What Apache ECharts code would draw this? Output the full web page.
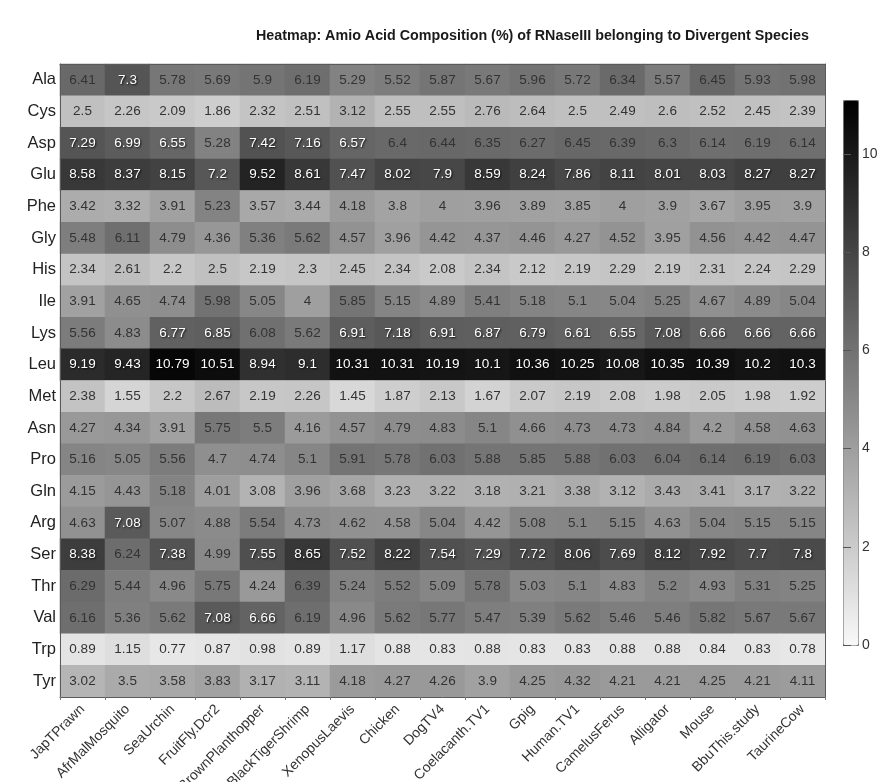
<!DOCTYPE html>
<html>
<head>
<meta charset="utf-8">
<script src="https://cdn.jsdelivr.net/npm/echarts@6/dist/echarts.min.js"></script>
<style>
  html, body { margin: 0; padding: 0; background: #ffffff; }
  #chart { width: 888px; height: 782px; }
</style>
</head>
<body>
<div id="chart"></div>
<script>
// Species (columns) and amino acids (rows)
const species = ['JapTPrawn', 'AfrMalMosquito', 'SeaUrchin', 'FruitFly.Dcr2', 'BrownPlanthopper',
  'BlackTigerShrimp', 'XenopusLaevis', 'Chicken', 'DogTV4', 'Coelacanth.TV1', 'Gpig', 'Human.TV1',
  'CamelusFerus', 'Alligator', 'Mouse', 'BbuThis.study', 'TaurineCow'];
const aminoAcids = ['Ala', 'Cys', 'Asp', 'Glu', 'Phe', 'Gly', 'His', 'Ile', 'Lys', 'Leu',
  'Met', 'Asn', 'Pro', 'Gln', 'Arg', 'Ser', 'Thr', 'Val', 'Trp', 'Tyr'];

// Composition (%) per amino acid, one value per species
const Ala = [6.41, 7.3, 5.78, 5.69, 5.9, 6.19, 5.29, 5.52, 5.87, 5.67, 5.96, 5.72, 6.34, 5.57, 6.45, 5.93, 5.98];
const Cys = [2.5, 2.26, 2.09, 1.86, 2.32, 2.51, 3.12, 2.55, 2.55, 2.76, 2.64, 2.5, 2.49, 2.6, 2.52, 2.45, 2.39];
const Asp = [7.29, 6.99, 6.55, 5.28, 7.42, 7.16, 6.57, 6.4, 6.44, 6.35, 6.27, 6.45, 6.39, 6.3, 6.14, 6.19, 6.14];
const Glu = [8.58, 8.37, 8.15, 7.2, 9.52, 8.61, 7.47, 8.02, 7.9, 8.59, 8.24, 7.86, 8.11, 8.01, 8.03, 8.27, 8.27];
const Phe = [3.42, 3.32, 3.91, 5.23, 3.57, 3.44, 4.18, 3.8, 4, 3.96, 3.89, 3.85, 4, 3.9, 3.67, 3.95, 3.9];
const Gly = [5.48, 6.11, 4.79, 4.36, 5.36, 5.62, 4.57, 3.96, 4.42, 4.37, 4.46, 4.27, 4.52, 3.95, 4.56, 4.42, 4.47];
const His = [2.34, 2.61, 2.2, 2.5, 2.19, 2.3, 2.45, 2.34, 2.08, 2.34, 2.12, 2.19, 2.29, 2.19, 2.31, 2.24, 2.29];
const Ile = [3.91, 4.65, 4.74, 5.98, 5.05, 4, 5.85, 5.15, 4.89, 5.41, 5.18, 5.1, 5.04, 5.25, 4.67, 4.89, 5.04];
const Lys = [5.56, 4.83, 6.77, 6.85, 6.08, 5.62, 6.91, 7.18, 6.91, 6.87, 6.79, 6.61, 6.55, 7.08, 6.66, 6.66, 6.66];
const Leu = [9.19, 9.43, 10.79, 10.51, 8.94, 9.1, 10.31, 10.31, 10.19, 10.1, 10.36, 10.25, 10.08, 10.35, 10.39, 10.2, 10.3];
const Met = [2.38, 1.55, 2.2, 2.67, 2.19, 2.26, 1.45, 1.87, 2.13, 1.67, 2.07, 2.19, 2.08, 1.98, 2.05, 1.98, 1.92];
const Asn = [4.27, 4.34, 3.91, 5.75, 5.5, 4.16, 4.57, 4.79, 4.83, 5.1, 4.66, 4.73, 4.73, 4.84, 4.2, 4.58, 4.63];
const Pro = [5.16, 5.05, 5.56, 4.7, 4.74, 5.1, 5.91, 5.78, 6.03, 5.88, 5.85, 5.88, 6.03, 6.04, 6.14, 6.19, 6.03];
const Gln = [4.15, 4.43, 5.18, 4.01, 3.08, 3.96, 3.68, 3.23, 3.22, 3.18, 3.21, 3.38, 3.12, 3.43, 3.41, 3.17, 3.22];
const Arg = [4.63, 7.08, 5.07, 4.88, 5.54, 4.73, 4.62, 4.58, 5.04, 4.42, 5.08, 5.1, 5.15, 4.63, 5.04, 5.15, 5.15];
const Ser = [8.38, 6.24, 7.38, 4.99, 7.55, 8.65, 7.52, 8.22, 7.54, 7.29, 7.72, 8.06, 7.69, 8.12, 7.92, 7.7, 7.8];
const Thr = [6.29, 5.44, 4.96, 5.75, 4.24, 6.39, 5.24, 5.52, 5.09, 5.78, 5.03, 5.1, 4.83, 5.2, 4.93, 5.31, 5.25];
const Val = [6.16, 5.36, 5.62, 7.08, 6.66, 6.19, 4.96, 5.62, 5.77, 5.47, 5.39, 5.62, 5.46, 5.46, 5.82, 5.67, 5.67];
const Trp = [0.89, 1.15, 0.77, 0.87, 0.98, 0.89, 1.17, 0.88, 0.83, 0.88, 0.83, 0.83, 0.88, 0.88, 0.84, 0.83, 0.78];
const Tyr = [3.02, 3.5, 3.58, 3.83, 3.17, 3.11, 4.18, 4.27, 4.26, 3.9, 4.25, 4.32, 4.21, 4.21, 4.25, 4.21, 4.11];

const composition = [Ala, Cys, Asp, Glu, Phe, Gly, His, Ile, Lys, Leu, Met, Asn, Pro, Gln, Arg, Ser, Thr, Val, Trp, Tyr];

// Colour scale range and its tick spacing
const scaleMin = 0;
const scaleMax = 11.1;
const scaleStep = 2;

// Flatten into [column, row, value] triples for the heatmap
const cells = [];
composition.forEach((row, r) => row.forEach((v, c) => cells.push([c, r, v])));

const FONT = "'Liberation Sans', Arial, sans-serif";
const frameLine = { show: true, lineStyle: { color: '#5a5a5a', width: 1 } };

const chart = echarts.init(document.getElementById('chart'), null, { renderer: 'canvas' });

chart.setOption({
  animation: false,
  backgroundColor: '#ffffff',
  textStyle: { fontFamily: FONT },
  title: {
    text: 'Heatmap: Amio Acid Composition (%) of RNaseIII belonging to Divergent Species',
    left: 251,
    top: 24,
    textStyle: {
      fontFamily: FONT,
      fontWeight: 'bold',
      fontSize: 14.3,
      color: '#1a1a1a'
    }
  },
  grid: [
    { left: 60, right: 63, top: 64, bottom: 85, outerBoundsMode: 'none', containLabel: false },
    { left: 843, width: 15, top: 100, height: 545, outerBoundsMode: 'none', containLabel: false }
  ],
  xAxis: [
    {
      type: 'category', data: species, gridIndex: 0, position: 'bottom', z: 5,
      axisLine: frameLine,
      axisTick: { show: true, length: 3, lineStyle: { color: '#777' } },
      axisLabel: { rotate: 45, interval: 0, fontSize: 14, color: '#333', margin: 10, fontFamily: FONT },
      splitLine: { show: false }
    },
    {
      type: 'category', data: species, gridIndex: 0, position: 'top', z: 5,
      axisLine: frameLine, axisTick: { show: false }, axisLabel: { show: false }
    },
    { type: 'value', gridIndex: 1, show: false, min: 0, max: 1 }
  ],
  yAxis: [
    {
      type: 'category', data: aminoAcids, inverse: true, gridIndex: 0, position: 'left', z: 5,
      axisLine: frameLine, axisTick: { show: false },
      axisLabel: { fontSize: 16.5, color: '#222', margin: 4, fontFamily: FONT },
      splitLine: { show: false }
    },
    {
      type: 'category', data: aminoAcids, inverse: true, gridIndex: 0, position: 'right', z: 5,
      axisLine: frameLine, axisTick: { show: false }, axisLabel: { show: false }
    },
    {
      type: 'value', gridIndex: 1, position: 'right', min: scaleMin, max: scaleMax, interval: scaleStep, z: 5,
      axisLine: { show: false },
      axisTick: { show: true, length: 8, lineStyle: { color: '#555' } },
      axisLabel: { fontSize: 14, color: '#333', margin: 4, fontFamily: FONT, showMaxLabel: false },
      splitLine: { show: false }
    }
  ],
  visualMap: {
    type: 'continuous',
    min: scaleMin,
    max: scaleMax,
    seriesIndex: 0,
    calculable: false,
    orient: 'vertical',
    left: 843,
    top: 100,
    itemWidth: 15,
    itemHeight: 545,
    padding: 0,
    borderColor: '#777',
    borderWidth: 1,
    hoverLink: false,
    inRange: { color: ['#f8f8f8', '#000000'] }
  },
  series: [{
    type: 'heatmap',
    xAxisIndex: 0,
    yAxisIndex: 0,
    data: cells,
    emphasis: { disabled: true },
    label: {
      show: true,
      fontFamily: FONT,
      formatter: (p) => {
        const v = p.value[2];
        return (v >= 6.55 ? '{w|' : '{d|') + v + '}';
      },
      rich: {
        w: {
          color: '#ffffff', fontSize: 13.5, fontFamily: FONT,
          textShadowColor: 'rgba(0,0,0,0.85)', textShadowBlur: 2,
          textShadowOffsetX: 1, textShadowOffsetY: 1
        },
        d: { color: '#333333', fontSize: 13.5, fontFamily: FONT }
      }
    }
  }]
});
</script>
</body>
</html>
